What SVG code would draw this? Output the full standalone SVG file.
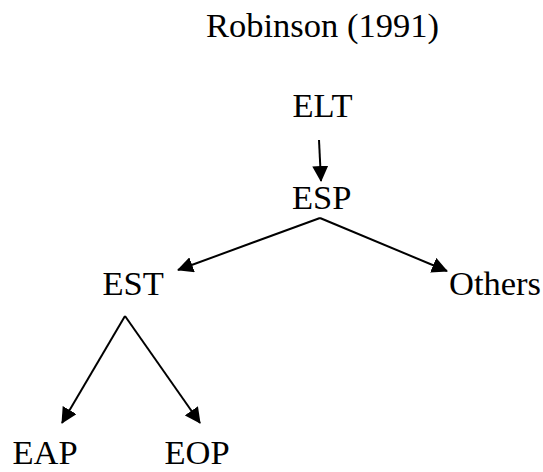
<svg xmlns="http://www.w3.org/2000/svg" width="543" height="472" viewBox="0 0 543 472">
  <style>
    .lbl { font-family: "Liberation Serif", "Times New Roman", serif; font-size: 34.5px; fill: #000; }
    .edge { stroke: #000; stroke-width: 2; fill: none; marker-end: url(#head); }
  </style>
  <defs>
    <marker id="head" markerWidth="8" markerHeight="8" refX="7.5" refY="4" orient="auto" markerUnits="strokeWidth">
      <path d="M0,0 L8,4 L0,8 Z" fill="#000"/>
    </marker>
  </defs>
  <rect width="543" height="472" fill="#fff"/>

  <g id="title"><text class="lbl" x="206" y="37">Robinson (1991)</text></g>

  <g id="connectors">
    <line class="edge" x1="319" y1="140" x2="321" y2="181"/>
    <line class="edge" x1="320" y1="218" x2="178" y2="270"/>
    <line class="edge" x1="320" y1="218" x2="447" y2="271"/>
    <line class="edge" x1="125" y1="316" x2="62" y2="423"/>
    <line class="edge" x1="125" y1="316" x2="200" y2="423"/>
  </g>

  <g id="node-elt"><text class="lbl" x="292.5" y="117">ELT</text></g>
  <g id="node-esp"><text class="lbl" x="292" y="209">ESP</text></g>
  <g id="node-est"><text class="lbl" x="102.5" y="295">EST</text></g>
  <g id="node-others"><text class="lbl" x="449" y="295">Others</text></g>
  <g id="node-eap"><text class="lbl" x="12.5" y="464">EAP</text></g>
  <g id="node-eop"><text class="lbl" x="164.5" y="464">EOP</text></g>
</svg>
